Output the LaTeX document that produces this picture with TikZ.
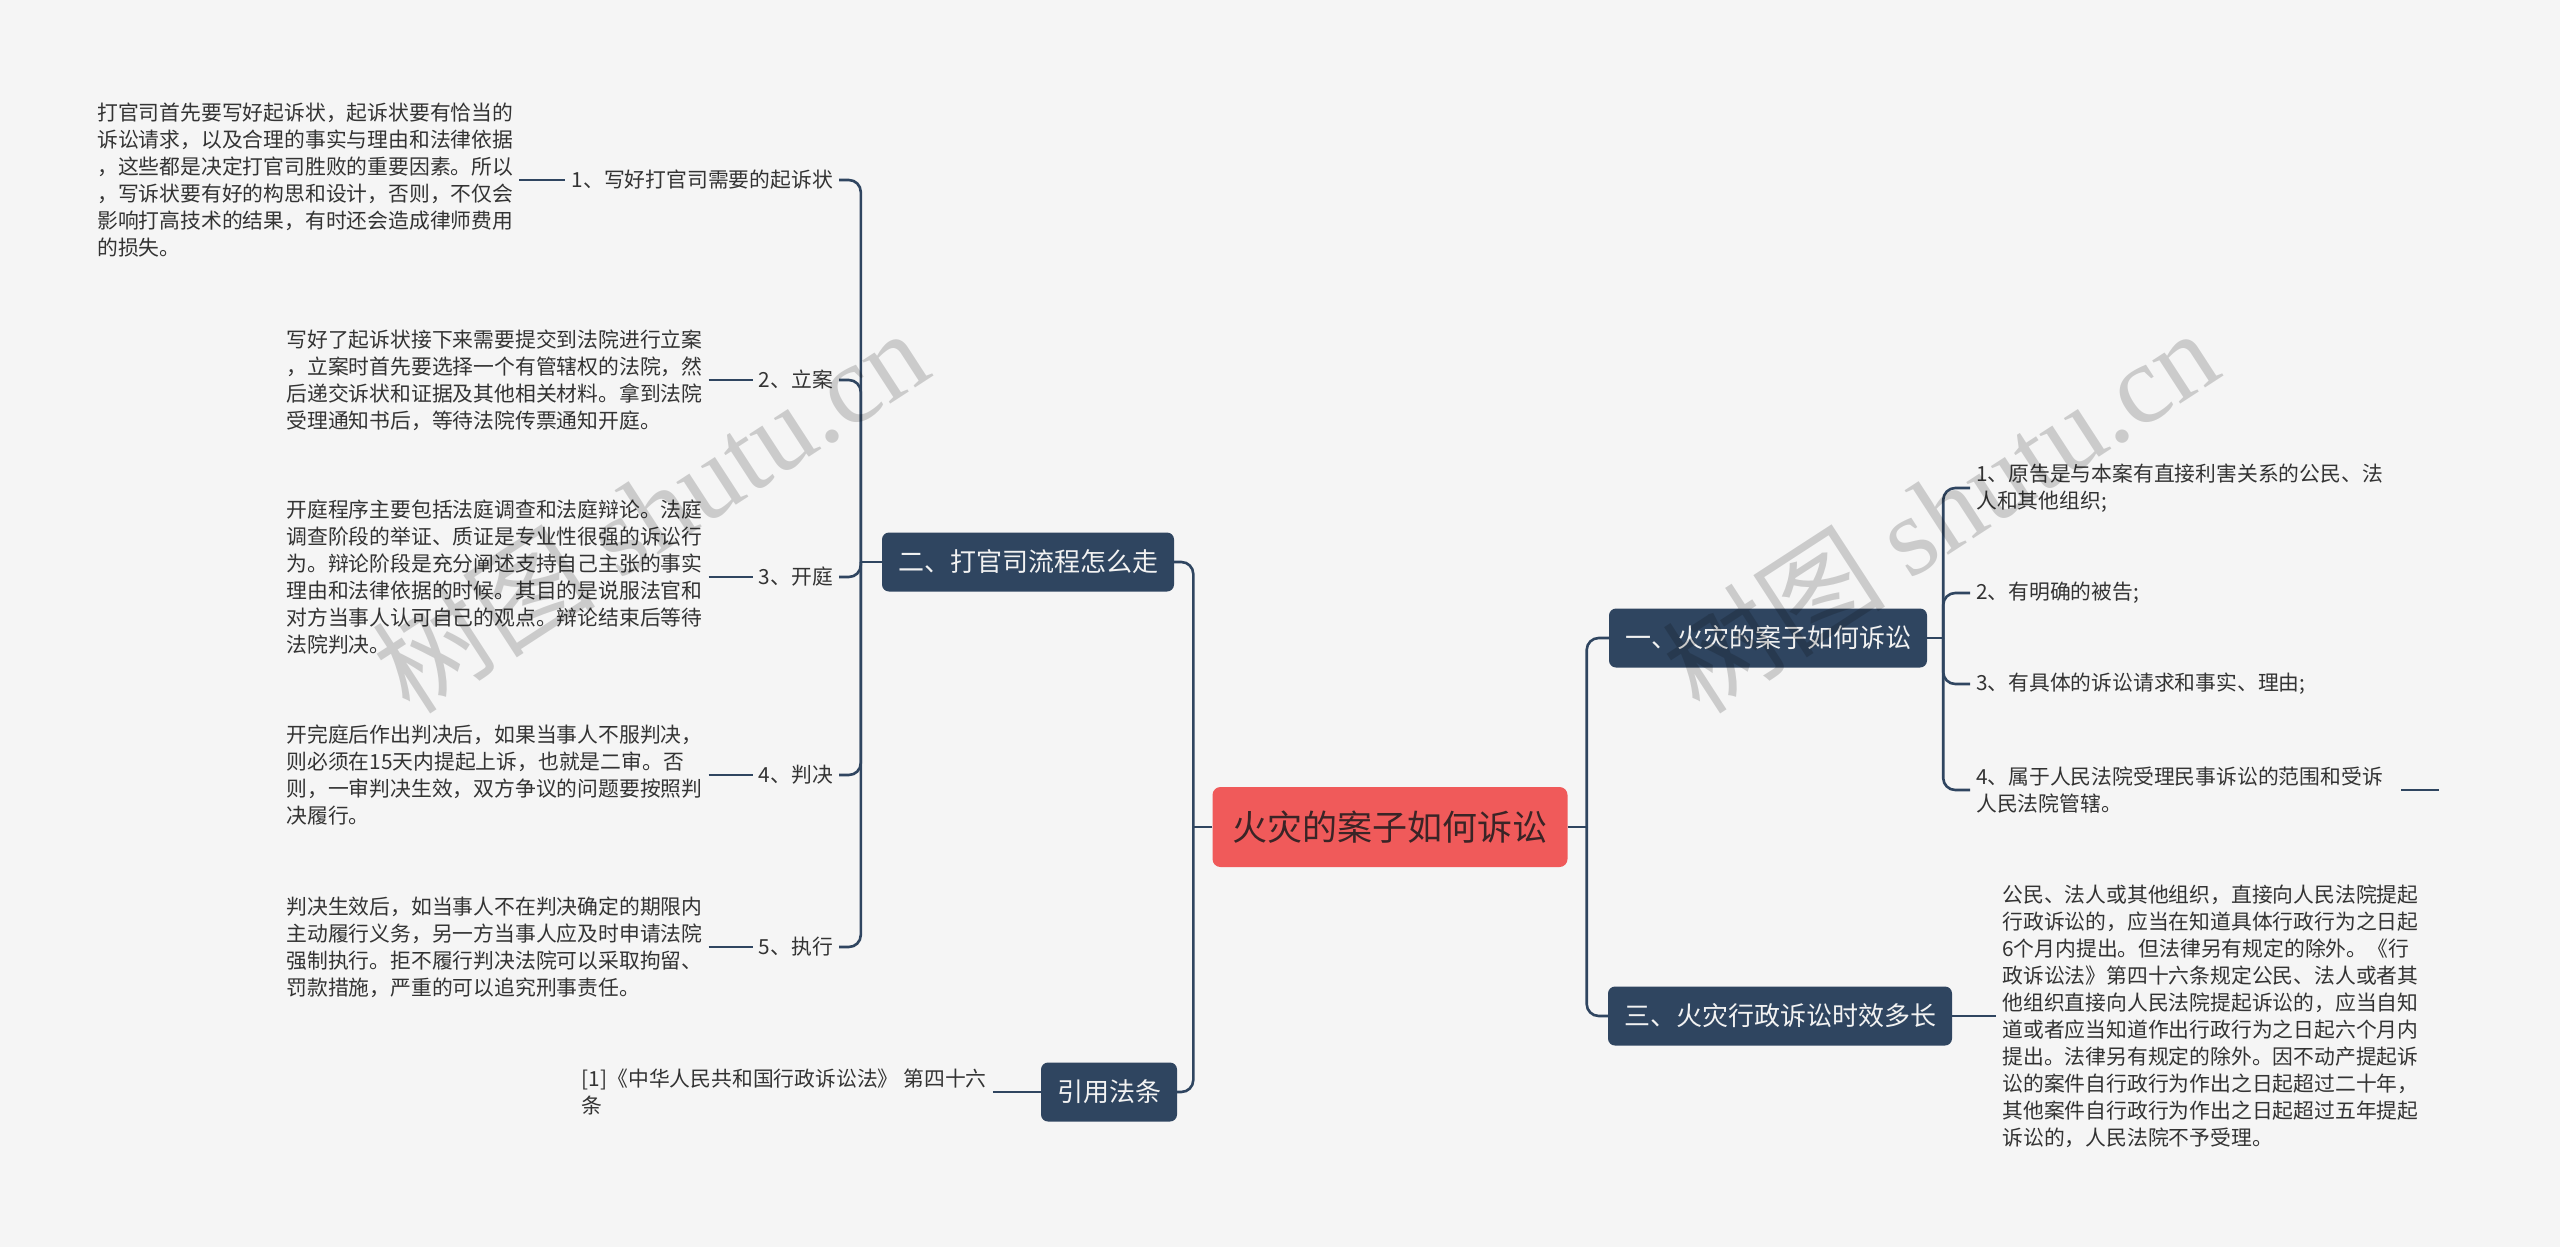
\documentclass[tikz,border=0pt]{standalone}
\usepackage{fontspec}
\setmainfont{Noto Sans CJK SC}
\newfontfamily\wmfont{Liberation Serif}
\usepackage{tikz}
\usetikzlibrary{positioning}
\definecolor{mmbg}{HTML}{F5F5F5}
\definecolor{mmdark}{HTML}{2F4560}
\definecolor{mmred}{HTML}{F05A5A}
\definecolor{mmtext}{HTML}{333333}
\definecolor{mmroot}{HTML}{3A2426}

\begin{document}
\begin{tikzpicture}[x=1pt, y=1pt,
  rootbox/.style={rectangle, rounded corners=8pt, fill=mmred, text=mmroot,
    minimum width=355pt, minimum height=80pt, font=\fontsize{35}{40}\selectfont},
  topicbox/.style={rectangle, rounded corners=7pt, fill=mmdark, text=white!95!black,
    inner xsep=16pt, minimum height=59pt, font=\fontsize{26}{30}\selectfont},
  leaf/.style={inner xsep=6pt, inner ysep=2pt, text=mmtext, align=left,
    font=\fontsize{20.8}{27}\selectfont},
  link/.style={draw=mmdark, line width=2.6pt, rounded corners=12pt}]

  \useasboundingbox (0,0) rectangle (2560,-1247);
  \fill[mmbg] (0,0) rectangle (2560,-1247);

  % Root and main topics
  \node[rootbox] (root) at (1390,-827) {火灾的案子如何诉讼};
  \node[topicbox] (b1) at (1768,-638)  {一、火灾的案子如何诉讼};
  \node[topicbox] (b2) at (1028,-562)  {二、打官司流程怎么走};
  \node[topicbox] (b3) at (1780,-1016) {三、火灾行政诉讼时效多长};
  \node[topicbox] (b4) at (1109,-1092) {引用法条};

  % Steps of topic two
  \node[leaf, anchor=east] (l1) at (839,-180) {1、写好打官司需要的起诉状};
  \node[leaf, anchor=east] (l2) at (839,-380) {2、立案};
  \node[leaf, anchor=east] (l3) at (839,-577) {3、开庭};
  \node[leaf, anchor=east] (l4) at (839,-775) {4、判决};
  \node[leaf, anchor=east] (l5) at (839,-947) {5、执行};

  \node[leaf, left=46pt of l1] (d1) {打官司首先要写好起诉状，起诉状要有恰当的\\
    诉讼请求，以及合理的事实与理由和法律依据\\
    ，这些都是决定打官司胜败的重要因素。所以\\
    ，写诉状要有好的构思和设计，否则，不仅会\\
    影响打高技术的结果，有时还会造成律师费用\\
    的损失。};
  \node[leaf, left=44pt of l2] (d2) {写好了起诉状接下来需要提交到法院进行立案\\
    ，立案时首先要选择一个有管辖权的法院，然\\
    后递交诉状和证据及其他相关材料。拿到法院\\
    受理通知书后，等待法院传票通知开庭。};
  \node[leaf, left=44pt of l3] (d3) {开庭程序主要包括法庭调查和法庭辩论。法庭\\
    调查阶段的举证、质证是专业性很强的诉讼行\\
    为。辩论阶段是充分阐述支持自己主张的事实\\
    理由和法律依据的时候。其目的是说服法官和\\
    对方当事人认可自己的观点。辩论结束后等待\\
    法院判决。};
  \node[leaf, left=44pt of l4] (d4) {开完庭后作出判决后，如果当事人不服判决，\\
    则必须在15天内提起上诉，也就是二审。否\\
    则，一审判决生效，双方争议的问题要按照判\\
    决履行。};
  \node[leaf, left=44pt of l5] (d5) {判决生效后，如当事人不在判决确定的期限内\\
    主动履行义务，另一方当事人应及时申请法院\\
    强制执行。拒不履行判决法院可以采取拘留、\\
    罚款措施，严重的可以追究刑事责任。};

  % Cited law
  \node[leaf, left=48pt of b4] (ref) {[1]《中华人民共和国行政诉讼法》 第四十六\\条};

  % Conditions of topic one
  \node[leaf, anchor=west] (r1) at (1970,-488) {1、原告是与本案有直接利害关系的公民、法\\人和其他组织;};
  \node[leaf, anchor=west] (r2) at (1970,-593) {2、有明确的被告;};
  \node[leaf, anchor=west] (r3) at (1970,-684) {3、有具体的诉讼请求和事实、理由;};
  \node[leaf, anchor=west] (r4) at (1970,-790) {4、属于人民法院受理民事诉讼的范围和受诉\\人民法院管辖。};
  \coordinate[right=50pt of r4] (r4end);

  % Time limit of topic three
  \node[leaf, right=44pt of b3] (t1) {公民、法人或其他组织，直接向人民法院提起\\
    行政诉讼的，应当在知道具体行政行为之日起\\
    6个月内提出。但法律另有规定的除外。《行\\
    政诉讼法》第四十六条规定公民、法人或者其\\
    他组织直接向人民法院提起诉讼的，应当自知\\
    道或者应当知道作出行政行为之日起六个月内\\
    提出。法律另有规定的除外。因不动产提起诉\\
    讼的案件自行政行为作出之日起超过二十年，\\
    其他案件自行政行为作出之日起超过五年提起\\
    诉讼的，人民法院不予受理。};

  % Junctions
  \coordinate[right=19pt of root] (rj);
  \coordinate[left=19pt of root]  (lj);
  \coordinate[left=21pt of b2]    (tj2);
  \coordinate[right=16pt of b1]   (tj1);

  % Connectors
  \draw[link] (root.east) -- (rj);
  \draw[link] (rj) |- (b1.west);
  \draw[link] (rj) |- (b3.west);
  \draw[link] (root.west) -- (lj);
  \draw[link] (lj) |- (b2.east);
  \draw[link] (lj) |- (b4.east);

  \draw[link] (b2.west) -- (tj2);
  \foreach \i in {1,...,5} {
    \draw[link] (tj2) |- (l\i.east);
    \draw[link] (d\i.east) -- (l\i.west);
  }
  \draw[link] (ref.east) -- (b4.west);

  \draw[link] (b1.east) -- (tj1);
  \foreach \i in {1,...,4}
    \draw[link] (tj1) |- (r\i.west);
  \draw[link, shorten <=12pt] (r4.east) -- (r4end);

  \draw[link] (b3.east) -- (t1.west);

  % Watermark
  \node[rotate=33, text=black, opacity=0.17, font=\fontsize{112}{112}\selectfont] (wm1) at (650,-510) {树图 {\wmfont shutu.cn}};
  \node[rotate=33, text=black, opacity=0.17, font=\fontsize{112}{112}\selectfont] (wm2) at (1940,-510) {树图 {\wmfont shutu.cn}};
\end{tikzpicture}
\end{document}
